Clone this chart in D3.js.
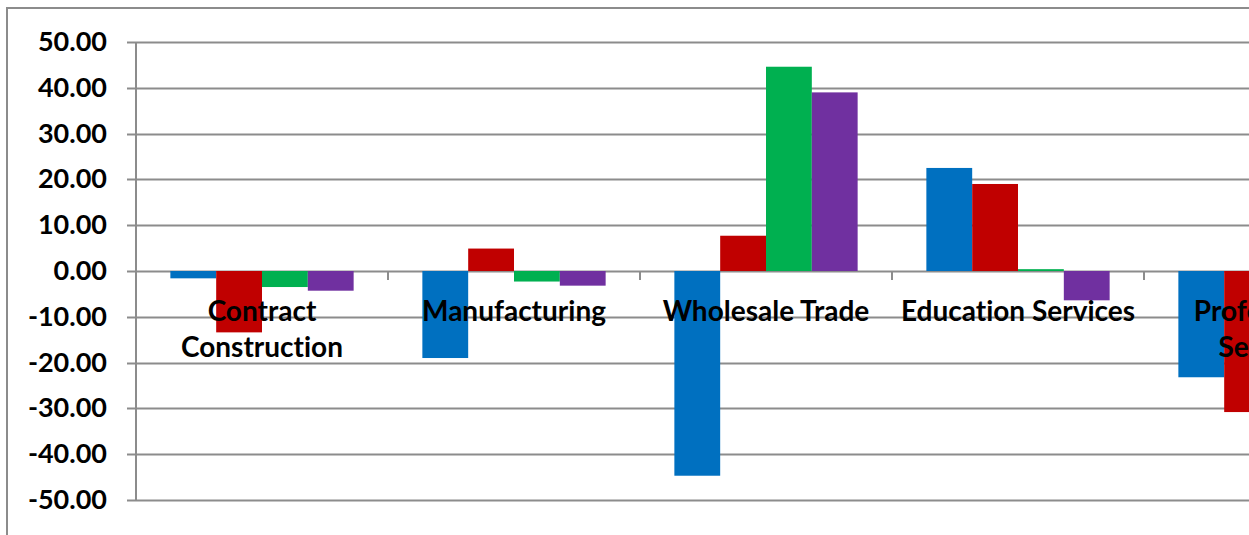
<!DOCTYPE html>
<html>
<head>
<meta charset="utf-8">
<script src="https://cdn.jsdelivr.net/npm/d3@7"></script>
<style>
  html, body { margin: 0; padding: 0; background: #fff; overflow: hidden; }
  svg { display: block; font-family: Lato, "Open Sans", sans-serif; font-variant-ligatures: none; }
</style>
</head>
<body>
<div id="chart"></div>
<script>
// categories along x (the last one is cut off by the frame)
const categories = ["Contract Construction", "Manufacturing", "Wholesale Trade", "Education Services", "Professional Services"];
const series = ["s1", "s2", "s3", "s4"];
const colors = ["#0070C0", "#C00000", "#00B050", "#7030A0"];

// one array per series, in category order
const s1 = [-1.6, -19.0, -44.7, 22.5, -23.2];
const s2 = [-13.4, 4.9, 7.7, 19.0, -30.8];
const s3 = [-3.5, -2.3, 44.6, 0.4, null];
const s4 = [-4.3, -3.2, 39.0, -6.4, null];
const seriesValues = [s1, s2, s3, s4];

const yTicks = [-50, -40, -30, -20, -10, 0, 10, 20, 30, 40, 50];

const W = 1249, H = 535;
const M = { top: 42, left: 136, bottom: 35 };
const CAT_W = 252;

const svg = d3.select("#chart").append("svg").attr("width", W).attr("height", H);

// outer chart frame, runs off right and bottom
svg.append("rect").attr("x", 7).attr("y", 8).attr("width", W + 50).attr("height", H + 50)
  .attr("fill", "none").attr("stroke", "#8c8c8c").attr("stroke-width", 2);

const y = d3.scaleLinear().domain([-50, 50]).range([500, 42]);
const x0 = d3.scaleBand().domain(categories).range([M.left, M.left + CAT_W * categories.length]);
const pad = x0.bandwidth() * 0.75 / 5.5;
const x1 = d3.scaleBand().domain(series).range([pad, x0.bandwidth() - pad]);

// gridlines
svg.append("g").selectAll("line").data(yTicks).join("line")
  .attr("x1", M.left - 9).attr("x2", W + 10)
  .attr("y1", d => Math.round(y(d)) + 0.5).attr("y2", d => Math.round(y(d)) + 0.5)
  .attr("stroke", "#8c8c8c").attr("stroke-width", 2);

// bars
const rows = [];
categories.forEach((c, i) => series.forEach((s, j) => {
  const v = seriesValues[j][i];
  if (v !== null) rows.push({ c, s, v, color: colors[j] });
}));
svg.append("g").selectAll("rect").data(rows).join("rect")
  .attr("x", d => x0(d.c) + x1(d.s))
  .attr("width", x1.bandwidth())
  .attr("y", d => y(Math.max(0, d.v)))
  .attr("height", d => Math.abs(y(d.v) - y(0)))
  .attr("fill", d => d.color);

// y axis line
svg.append("line").attr("x1", M.left).attr("x2", M.left).attr("y1", y(50)).attr("y2", y(-50))
  .attr("stroke", "#8c8c8c").attr("stroke-width", 2);

// category tick marks below zero line
const bounds = categories.map(c => x0(c)).concat([x0(categories[categories.length - 1]) + CAT_W]);
svg.append("g").selectAll("line").data(bounds.slice(1)).join("line")
  .attr("x1", d => d).attr("x2", d => d)
  .attr("y1", y(0)).attr("y2", y(0) + 9)
  .attr("stroke", "#8c8c8c").attr("stroke-width", 2);

// y tick labels (plain hyphen for negatives, like the source)
const fmt = d3.format(".2f");
svg.append("g").selectAll("text").data(yTicks).join("text")
  .attr("x", 107).attr("y", d => y(d) + 9)
  .attr("text-anchor", "end")
  .style("font-weight", 700).style("font-size", "27px").style("fill", "#000")
  .text(d => fmt(d).replace("\u2212", "-"));

// category labels, wrapped to the band width
const labels = svg.append("g");
categories.forEach(c => {
  const t = labels.append("text")
    .attr("text-anchor", "middle")
    .style("font-weight", 700).style("font-size", "28px").style("fill", "#000");
  const cx = x0(c) + CAT_W / 2;
  const words = c.split(" ");
  let line = [], lineNo = 0;
  let ts = t.append("tspan").attr("x", cx).attr("y", 321);
  words.forEach(w => {
    line.push(w);
    ts.text(line.join(" "));
    if (ts.node().getComputedTextLength() > CAT_W && line.length > 1) {
      line.pop();
      ts.text(line.join(" "));
      line = [w];
      lineNo++;
      ts = t.append("tspan").attr("x", cx).attr("y", 321 + lineNo * 36).text(w);
    }
  });
});
</script>
</body>
</html>
